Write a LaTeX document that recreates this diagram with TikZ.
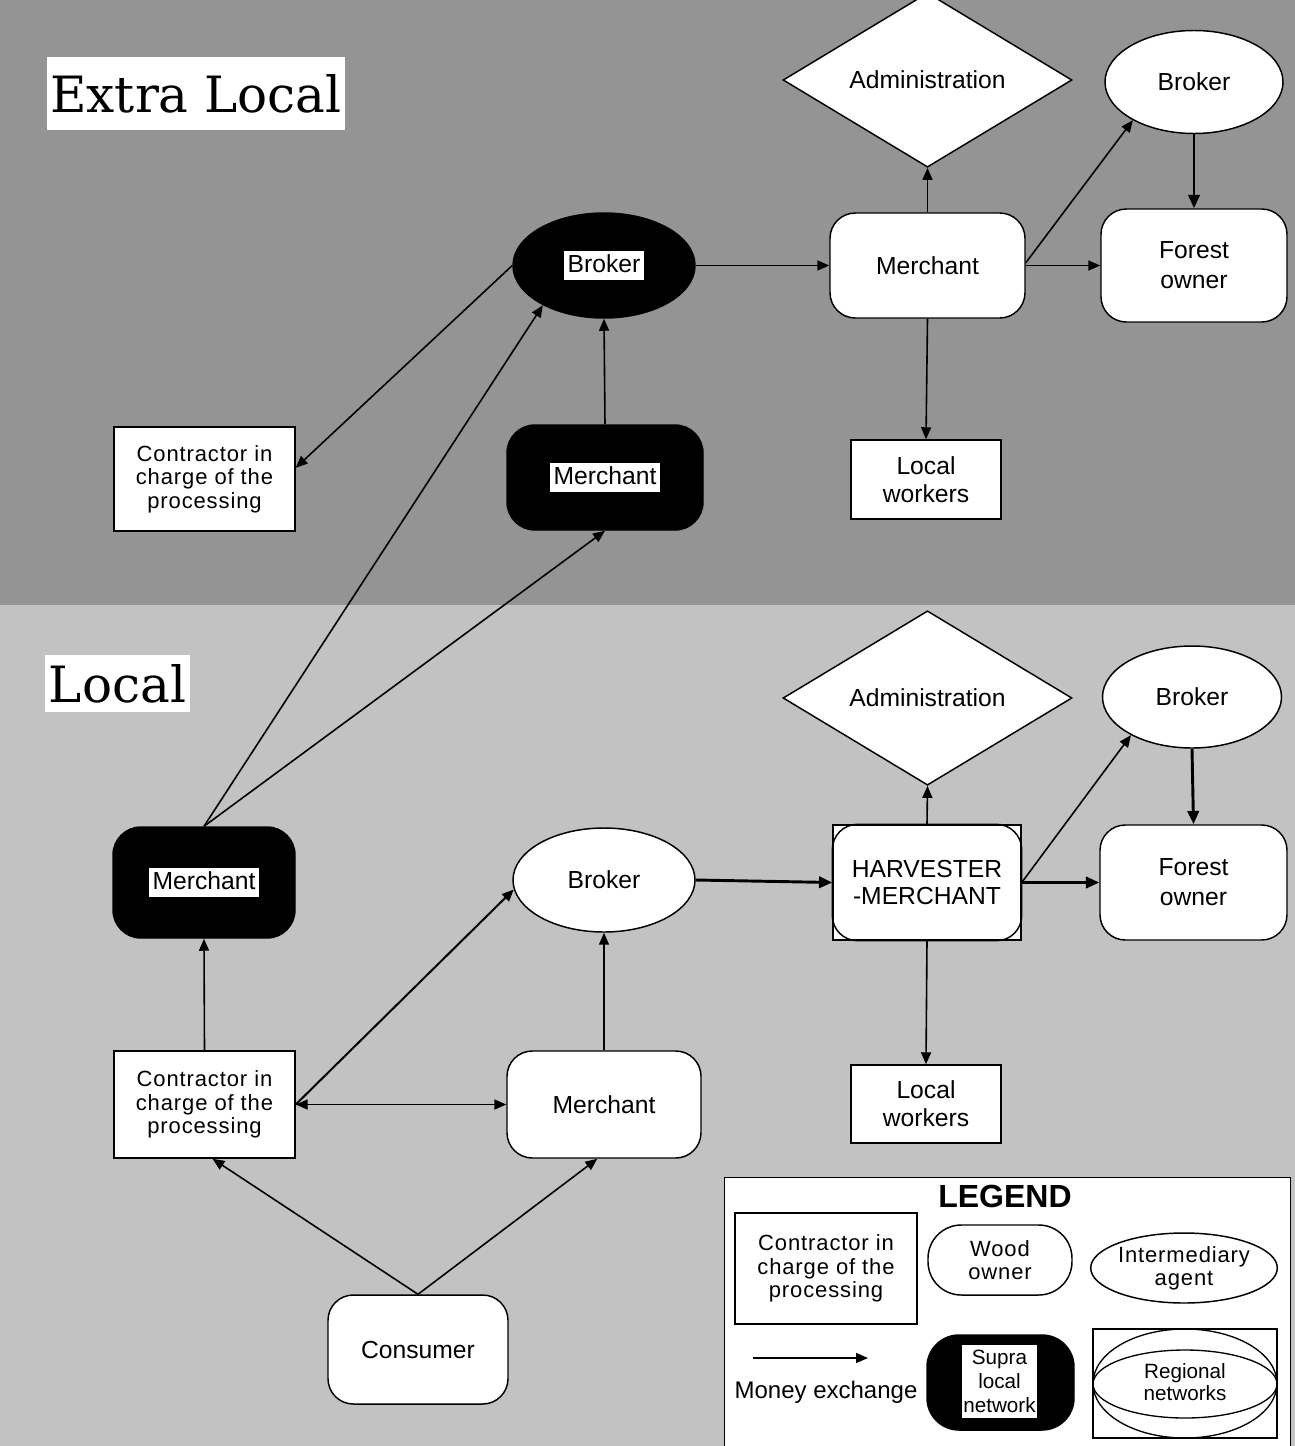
\documentclass[tikz,border=0pt]{standalone}
\usepackage{fontspec}
\setsansfont{Liberation Sans}
\newfontfamily\titlefont{DejaVu Serif}
\newfontfamily\widesans[LetterSpace=4]{Liberation Sans}
\usetikzlibrary{arrows.meta,shapes.geometric}
\setlength{\fboxsep}{2.5pt}
\newcommand\wbox[1]{\colorbox{white}{\rule[-3.5pt]{0pt}{17pt}#1}}
\begin{document}
\begin{tikzpicture}[x=0.75pt,y=-0.75pt,
  sz/.style 2 args={minimum width=#1*0.75pt,minimum height=#2*0.75pt},
  txt/.style={font=\sffamily\fontsize{18.5}{21}\selectfont, align=center, text=black},
  box/.style={txt, draw=black, fill=white, line width=1.1pt, inner sep=0pt},
  rbox/.style={box, rounded corners=19pt},
  ebox/.style={box, ellipse},
  dbox/.style={box, diamond},
  blk/.style={box, fill=black, rounded corners=21pt},
  tight/.style={font=\widesans\fontsize{16.5}{17.5}\selectfont},
  arr/.style={line width=1.2pt, -{Triangle[length=9pt,width=7.5pt]}},
  darr/.style={line width=1.3pt, {Triangle[length=9pt,width=7.5pt]}-{Triangle[length=9pt,width=7.5pt]}},
  tarr/.style={line width=2.2pt, -{Triangle[length=10pt,width=8.5pt]}},
  title/.style={fill=white, font=\titlefont\fontsize{37.5}{40}\selectfont, inner sep=0pt}
]
\useasboundingbox (0,0) rectangle (1295,1446);
% backgrounds
\fill[black!42] (0,0) rectangle (1295,605);
\fill[black!24] (0,605) rectangle (1295,1446);

% titles
\node[title, sz={298}{73}] (tx) at (196,93.5) {Extra Local};
\node[title, sz={145}{57}] (tl) at (117.5,683.5) {Local};

% ---------- Extra local ----------
\node[dbox, sz={289}{144}] (adt) at (927.5,80) {Administration};
\node[ebox, sz={178}{103}] (btr) at (1194,82) {Broker};
\node[rbox, sz={186}{113}, font=\sffamily\fontsize{18.5}{22.5}\selectfont] (fot) at (1194,265.5) {Forest\\owner};
\node[rbox, sz={195}{105}] (mt) at (927.5,265.5) {Merchant};
\node[box, sz={150}{79}] (lwt) at (926,479.5) {Local\\workers};
\node[ebox, fill=black, sz={182}{105}] (bb) at (604,265.5) {\wbox{Broker}};
\node[blk, sz={196}{105}] (mbt) at (605,477.5) {\wbox{Merchant}};
\node[box, tight, sz={181}{104}] (ct) at (204.5,479) {Contractor in\\charge of the\\processing};

% ---------- Local ----------
\node[dbox, sz={289}{144}] (adb) at (927.5,698) {Administration};
\node[ebox, sz={179}{102}] (bbr) at (1192,697) {Broker};
\node[rbox, sz={187}{115}, font=\sffamily\fontsize{18.5}{22.5}\selectfont] (fob) at (1193.5,882.5) {Forest\\owner};
\node[box, sz={188}{115}, font=\sffamily\fontsize{18.5}{20.5}\selectfont] (hm) at (927,882.5) {HARVESTER\\-MERCHANT};
\draw[line width=1.1pt, rounded corners=19pt] (hm.north west) rectangle (hm.south east);
\node[box, sz={150}{78}] (lwb) at (926,1104) {Local\\workers};
\node[ebox, sz={182}{104}] (bw) at (604,880) {Broker};
\node[blk, sz={182}{111}] (ml) at (204,882.5) {\wbox{Merchant}};
\node[box, tight, sz={181}{107}] (cl) at (204.5,1104.5) {Contractor in\\charge of the\\processing};
\node[rbox, sz={194}{107}] (mw) at (604,1104.5) {Merchant};
\node[rbox, sz={180}{109}] (co) at (418,1349.5) {Consumer};

% ---------- connectors: extra local ----------
\draw[arr] (bb.east) -- (mt.west);
\draw[arr] (mt.north) -- (adt.south);
\draw[arr] ([yshift=2pt]mt.east) -- (btr.212);
\draw[arr] (mt.east) -- (fot.west);
\draw[tarr] (btr.south) -- (fot.north);
\draw[arr] (mt.south) -- (lwt.north);
\draw[arr] (mbt.north) -- (bb.south);
\draw[arr] (bb.west) -- (ct.7);
\draw[arr] (ml.north) -- (bb.213);
\draw[arr] (ml.north) -- (mbt.south);

% ---------- connectors: local ----------
\draw[tarr] (bw.east) -- (hm.west);
\draw[arr] (hm.north) -- (adb.south);
\draw[arr] (hm.east) -- (bbr.212);
\draw[tarr] (hm.east) -- (fob.west);
\draw[tarr] (bbr.south) -- (fob.north);
\draw[arr] (hm.south) -- (lwb.north);
\draw[arr] (cl.north) -- (ml.south);
\draw[arr, line width=1.5pt] (cl.east) -- (bw.186);
\draw[darr] (cl.east) -- (mw.west);
\draw[arr] (mw.north) -- (bw.south);
\draw[arr] (co.north) -- ([xshift=6pt]cl.south);
\draw[arr] (co.north) -- ([xshift=-5pt]mw.south);

% ---------- legend ----------
\node[draw=black, fill=white, line width=1.1pt, sz={566}{285}, anchor=north west, inner sep=0pt] (leg) at (724,1177) {};
\node[font=\sffamily\bfseries\fontsize{24}{24}\selectfont, inner sep=0pt] (legt) at (1005,1196) {LEGEND};
\node[box, tight, sz={182}{111}] (lc) at (826,1268.5) {Contractor in\\charge of the\\processing};
\node[rbox, tight, sz={144}{70}, rounded corners=25pt] (lwo) at (1000,1260) {Wood\\owner};
\node[ebox, tight, sz={182}{70}] (lia) at (1184,1268) {Intermediary\\agent};
\coordinate (ma1) at (753,1358);
\coordinate (ma2) at (868,1358);
\draw[line width=1.1pt, -{Triangle[length=9pt,width=7.5pt]}] (ma1) -- (ma2);
\node[txt, font=\sffamily\fontsize{18}{18}\selectfont, inner sep=0pt] (lme) at (826,1392) {Money exchange};
\node[blk, sz={147}{95}, rounded corners=24pt] (lsn) at (1000.5,1382.5) {};
\node[fill=white, sz={75}{73}, inner sep=0pt, align=center, font=\sffamily\fontsize{15.5}{18}\selectfont] (lsnt) at (999.5,1381.5) {Supra\\local\\network};
\node[box, sz={184}{109}] (lrn) at (1185,1383.5) {};
\draw[line width=1pt] (lrn.center) ellipse [x radius=92, y radius=54.5];
\draw[line width=1pt] (1185,1384) ellipse [x radius=92, y radius=34];
\node[align=center, inner sep=0pt, font=\sffamily\fontsize{15.5}{17}\selectfont] (lrnt) at (1185,1382) {Regional\\networks};
\end{tikzpicture}
\end{document}
